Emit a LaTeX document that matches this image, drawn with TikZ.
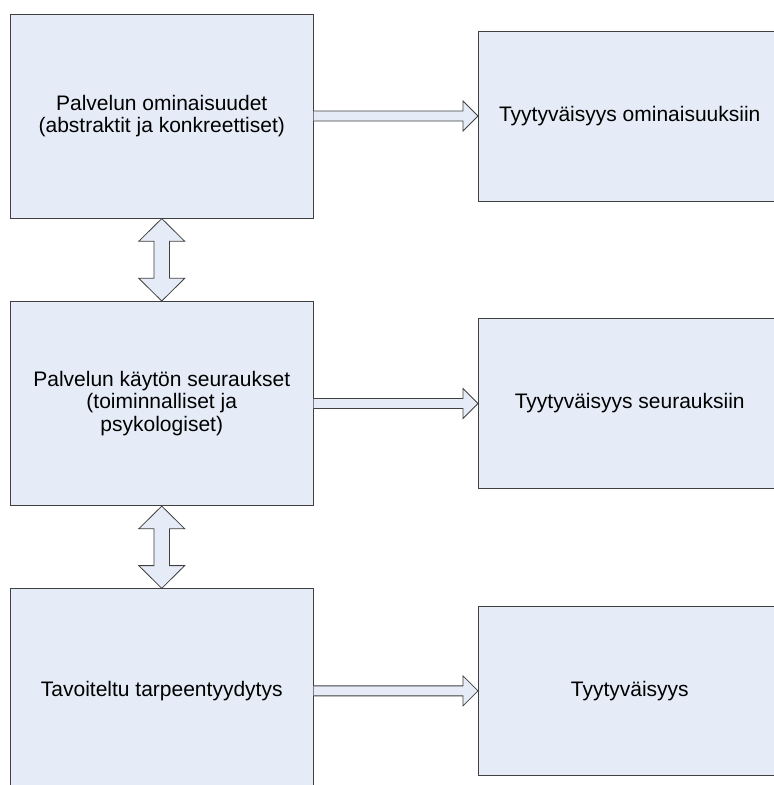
\documentclass[tikz,border=0pt]{standalone}
\usepackage{fontspec}
\setmainfont{Liberation Sans}
\usetikzlibrary{calc}
\definecolor{boxfill}{RGB}{230,236,247}
\definecolor{boxline}{RGB}{64,64,64}
\begin{document}
\begin{tikzpicture}[x=1pt,y=-1pt,
  lbox/.style={draw=boxline,fill=boxfill,line width=0.9pt,minimum width=302.6pt,minimum height=204.2pt,
    inner sep=0pt,align=center,font=\fontsize{21}{22.5}\selectfont},
  rbox/.style={draw=boxline,fill=boxfill,line width=0.9pt,minimum width=302.6pt,minimum height=169.7pt,
    inner sep=0pt,align=center,font=\fontsize{21}{22.5}\selectfont},
  arr/.style={draw=boxline,fill=boxfill,line width=0.8pt,line join=miter}]
\useasboundingbox (0,0) rectangle (774,785);
\clip (0,0) rectangle (774,785);
\fill[white] (0,0) rectangle (774,785);
% left boxes
\node[lbox,anchor=north west] (a) at (10,13.5) {Palvelun ominaisuudet\\(abstraktit ja konkreettiset)};
\node[lbox,anchor=north west] (b) at (10,301) {Palvelun käytön seuraukset\\(toiminnalliset ja\\psykologiset)};
\node[lbox,anchor=north west] (c) at (10,588.3) {Tavoiteltu tarpeentyydytys};
% right boxes
\node[rbox,anchor=north west] (d) at (478,31) {Tyytyväisyys ominaisuuksiin};
\node[rbox,anchor=north west] (e) at (478,318) {Tyytyväisyys seurauksiin};
\node[rbox,anchor=north west] (f) at (478,605.7) {Tyytyväisyys};
% horizontal arrows
\foreach \s/\t in {a/d,b/e,c/f}{
  \coordinate (tip) at (\t.west |- \s.east);
  \draw[arr] ($(\s.east)+(0,-5)$) -- ($(tip)+(-15,-5)$) -- ($(tip)+(-15,-15)$) -- (tip)
     -- ($(tip)+(-15,15)$) -- ($(tip)+(-15,5)$) -- ($(\s.east)+(0,5)$);
}
% vertical double arrows
\foreach \s/\t in {a/b,b/c}{
  \draw[arr] (\s.south) -- ($(\s.south)+(23,22.7)$) -- ($(\s.south)+(7.8,22.7)$)
     -- ($(\t.north)+(7.8,-22.7)$) -- ($(\t.north)+(23,-22.7)$) -- (\t.north)
     -- ($(\t.north)+(-23,-22.7)$) -- ($(\t.north)+(-7.8,-22.7)$)
     -- ($(\s.south)+(-7.8,22.7)$) -- ($(\s.south)+(-23,22.7)$) -- cycle;
}
\end{tikzpicture}
\end{document}
